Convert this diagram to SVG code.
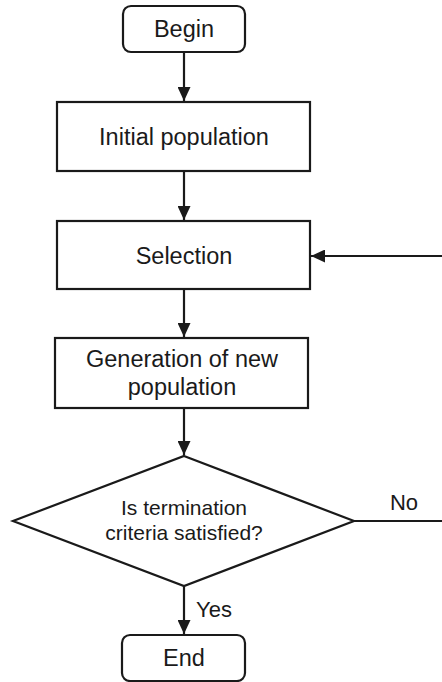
<svg xmlns="http://www.w3.org/2000/svg" width="442" height="682" viewBox="0 0 442 682">
<style>
.box{fill:#fff;stroke:#1a1a1a;stroke-width:2.2}
.t{font-family:"Liberation Sans",Arial,sans-serif;font-size:23.5px;fill:#1a1a1a;text-anchor:middle}
.s{font-family:"Liberation Sans",Arial,sans-serif;font-size:21px;fill:#1a1a1a;text-anchor:middle}
.l{font-family:"Liberation Sans",Arial,sans-serif;font-size:22px;fill:#1a1a1a}
.c{fill:none;stroke:#1a1a1a;stroke-width:2.2}
</style>
<defs>
<marker id="ah" markerWidth="14" markerHeight="13" refX="14" refY="6.5" orient="auto" markerUnits="userSpaceOnUse">
<path d="M0,0 L14,6.5 L0,13 Z" fill="#1a1a1a"/>
</marker>
</defs>
<g id="connectors">
<line class="c" x1="184" y1="52" x2="184" y2="101" marker-end="url(#ah)"/>
<line class="c" x1="184" y1="171" x2="184" y2="220" marker-end="url(#ah)"/>
<line class="c" x1="184" y1="289" x2="184" y2="337" marker-end="url(#ah)"/>
<line class="c" x1="184" y1="408" x2="184" y2="455" marker-end="url(#ah)"/>
<line class="c" x1="184" y1="586" x2="184" y2="634" marker-end="url(#ah)"/>
<line class="c" x1="354" y1="521" x2="442" y2="521"/>
<line class="c" x1="442" y1="256" x2="311" y2="256" marker-end="url(#ah)"/>
<text class="l" x="404" y="510" text-anchor="middle">No</text>
<text class="l" x="196" y="617">Yes</text>
</g>
<g id="begin">
<rect class="box" x="123" y="6" width="122" height="46" rx="8"/>
<text class="t" x="184" y="37">Begin</text>
</g>
<g id="initial">
<rect class="box" x="57" y="102" width="253" height="69"/>
<text class="t" x="184" y="145">Initial population</text>
</g>
<g id="selection">
<rect class="box" x="57" y="221" width="253" height="68"/>
<text class="t" x="184" y="264">Selection</text>
</g>
<g id="generation">
<rect class="box" x="55" y="338" width="253" height="70"/>
<text class="t" x="182" y="367">Generation of new</text>
<text class="t" x="182" y="395">population</text>
</g>
<g id="decision">
<polygon class="box" points="184,456 354,521 184,586 13,521"/>
<text class="s" x="184" y="515">Is termination</text>
<text class="s" x="184" y="540">criteria satisfied?</text>
</g>
<g id="end">
<rect class="box" x="122" y="635" width="123" height="46" rx="8"/>
<text class="t" x="184" y="666">End</text>
</g>
</svg>
